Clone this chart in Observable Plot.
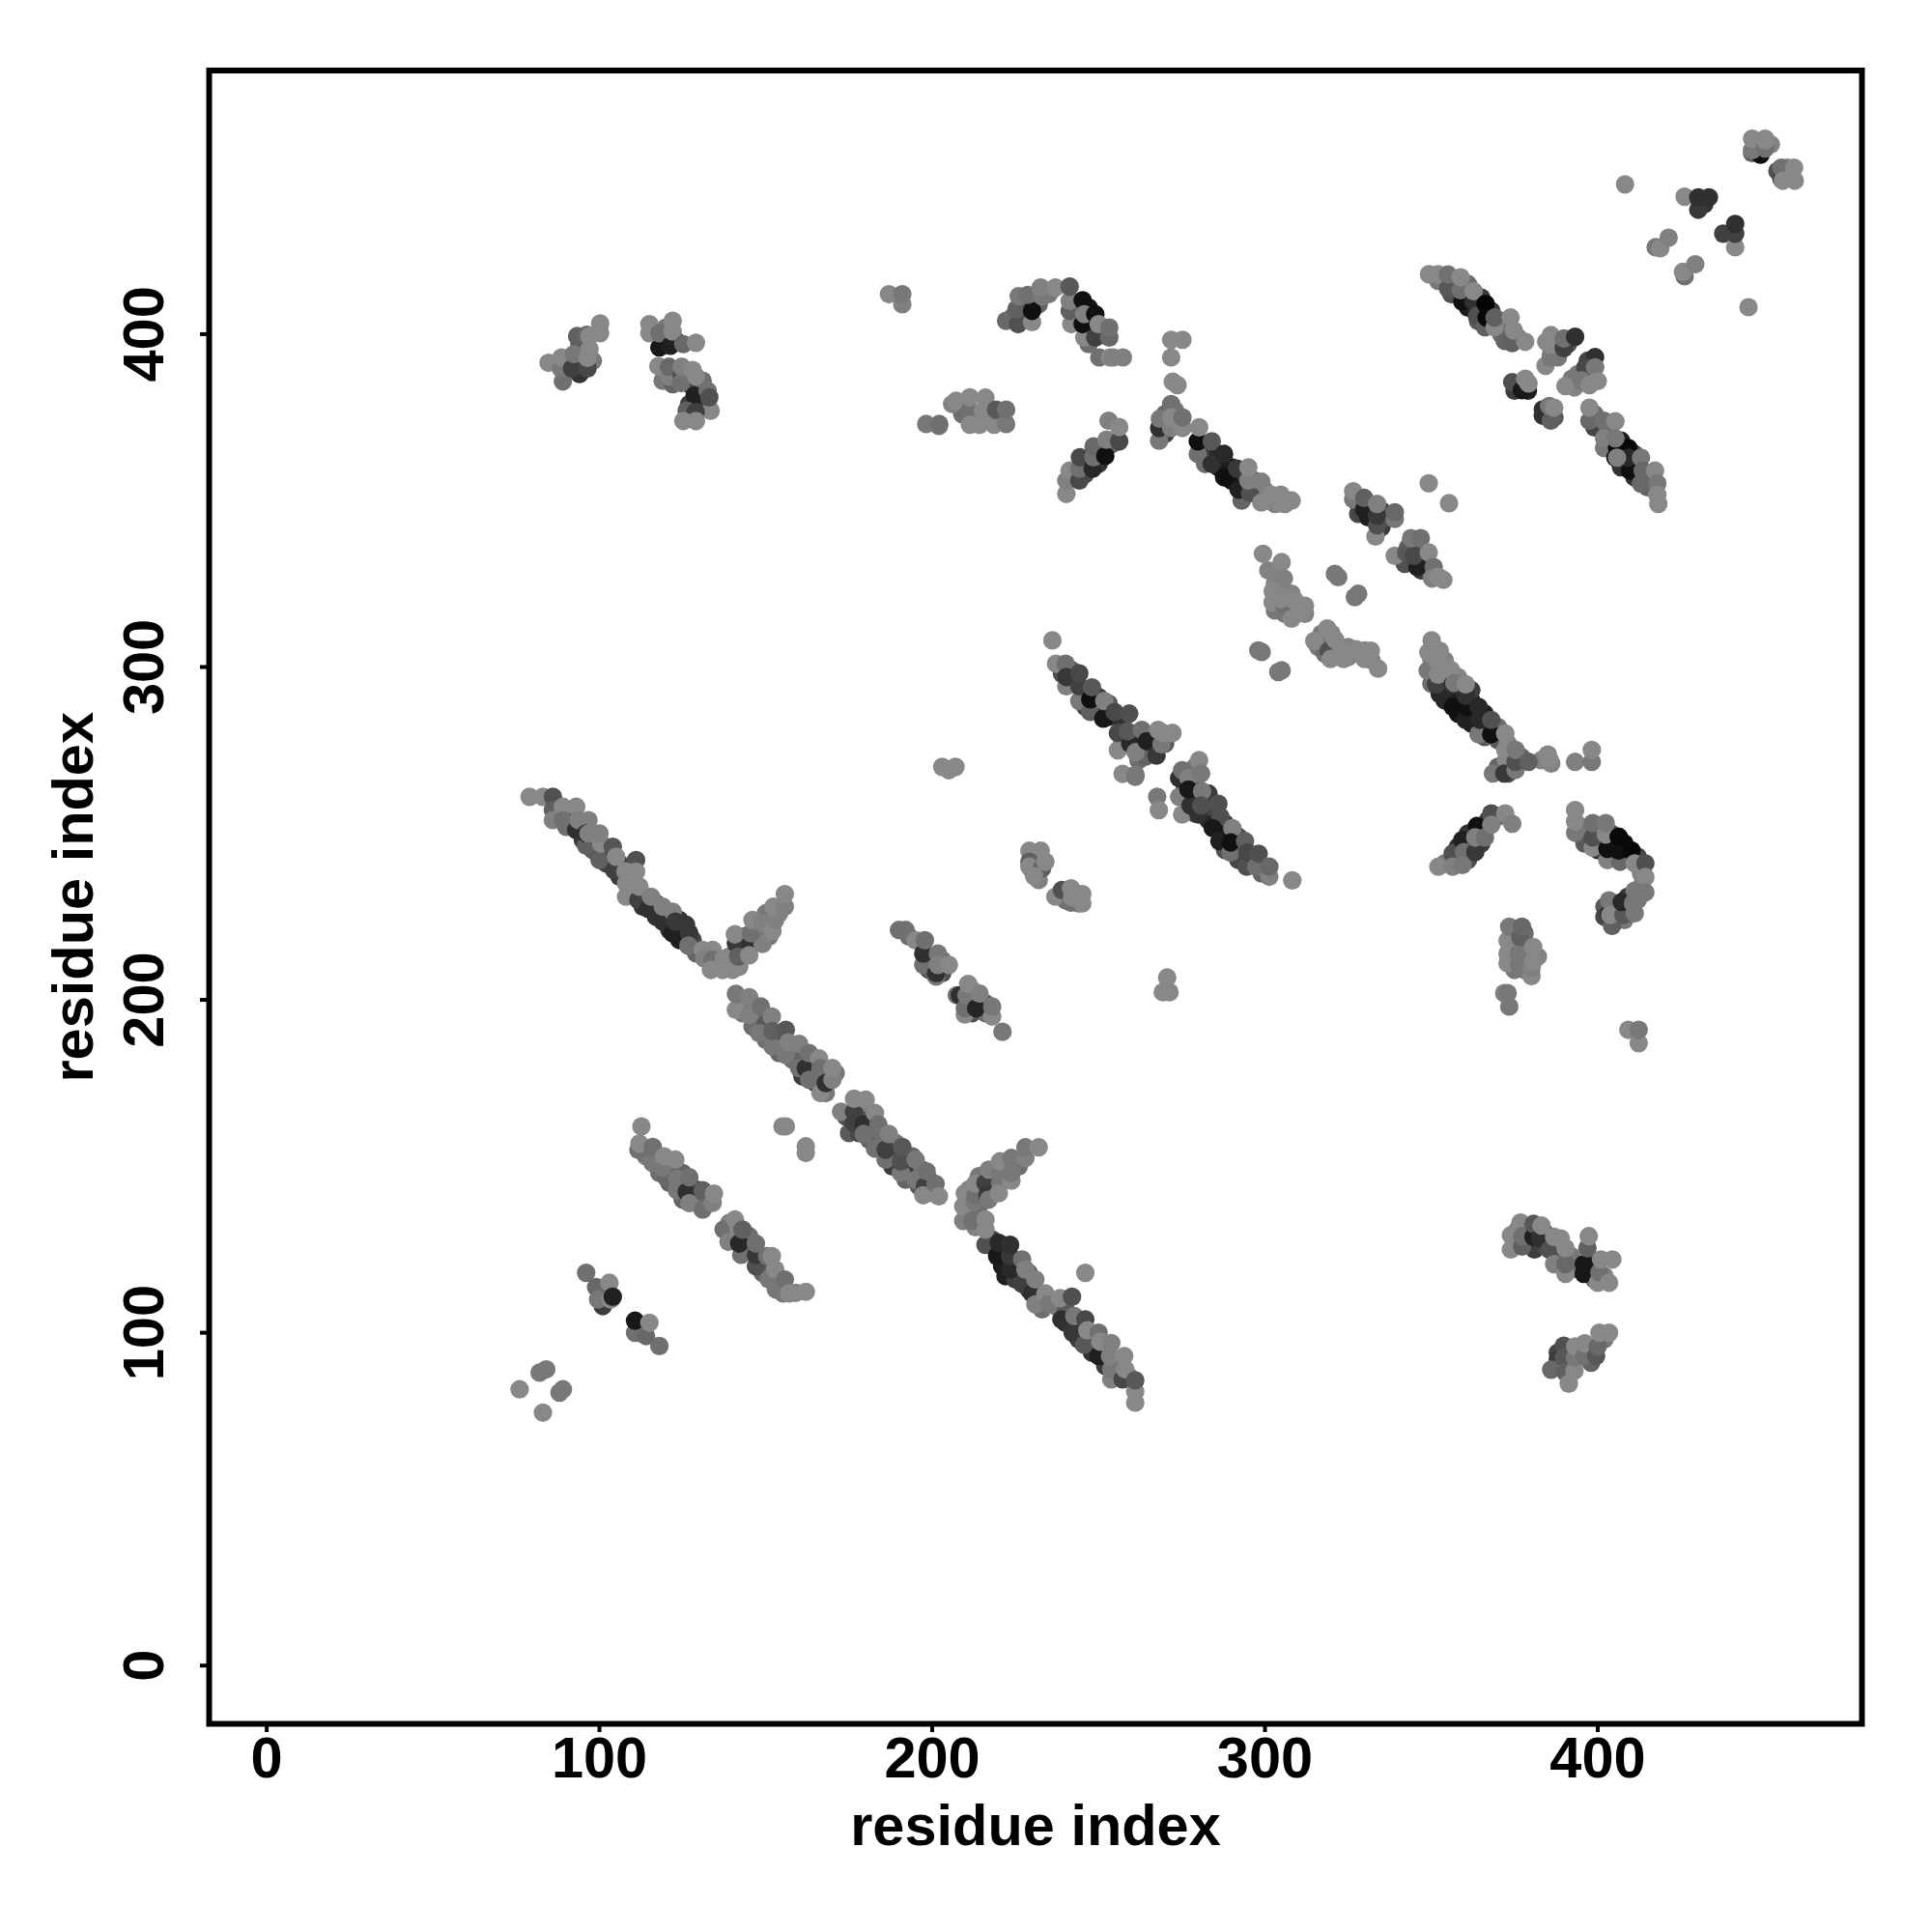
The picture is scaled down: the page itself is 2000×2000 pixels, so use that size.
<!DOCTYPE html>
<html><head><meta charset="utf-8">
<style>html,body{margin:0;padding:0;background:#fff}</style>
<script src="https://cdn.jsdelivr.net/npm/d3@7"></script>
<script src="https://cdn.jsdelivr.net/npm/@observablehq/plot@0.6"></script>
</head><body><div id="chart"></div>
<script>
// Each entry: [residue index x, residue index y, grey level]
const hiddenPoints=[[88,256,90],[90,252,110],[91,256,50],[94,252,60],[95,248,60],[98,249,60],[98,245,90],[102,245,60],[102,241,70],[103,243,60],[106,241,70],[106,237,60],[110,234,120],[113,228,50],[117,225,50],[117,229,100],[121,221,40],[124,218,30],[124,224,50],[128,218,70],[129,214,100],[136,210,120],[139,213,130],[143,215,60],[143,219,100],[147,218,60],[147,222,110],[151,219,120],[150,226,120],[154,226,130],
[143,199,110],[143,196,120],[146,192,110],[147,197,110],[150,188,110],[150,193,90],[154,188,70],[154,184,100],[158,182,110],[158,185,100],[161,177,60],[161,183,100],[164,180,80],[165,175,50],[168,178,100],[168,172,120],[171,178,120],
[174,165,80],[175,160,90],[178,168,130],[178,164,60],[178,160,70],[181,158,100],[181,164,90],[185,156,90],[185,160,110],[188,150,60],[188,154,80],[189,157,120],[192,146,100],[193,150,60],[194,153,100],[196,144,90],[197,149,110],[199,146,90],[200,142,120],
[211,136,130],[214,138,110],[218,142,90],[219,146,100],[222,149,110],[226,150,110],[211,143,130],[214,147,120],[218,128,70],[221,120,30],[225,121,50],[222,117,30],[225,116,60],[229,113,50],[229,118,100],[233,107,110],[237,108,130],[240,103,50],[240,107,90],[244,102,60],[244,98,60],[248,98,50],[248,94,50],[252,90,60],[252,94,40],[255,90,90],[256,88,100],[259,87,120],
[114,153,120],[118,148,110],[118,151,100],[121,145,100],[122,148,100],[125,143,90],[125,148,100],[125,140,100],[129,139,80],[129,143,60],[132,139,100],[139,130,120],[139,133,130],[144,125,50],[145,129,110],[149,122,60],[149,118,100],[153,115,120],[153,113,120],[159,112,130],
[101,112,100],[101,108,60],[112,100,60],[112,102,30],
[90,391,100],[93,392,100],[94,388,50],[95,396,110],[94,397,90],[98,392,120],[119,398,30],[120,402,120],[123,398,40],[126,389,80],[127,385,70],[131,380,60],[131,386,110],[130,378,60],[127,379,60],[119,386,120],[122,385,100],
[224,405,90],[228,405,70],[228,409,90],[232,409,100],[235,412,120],[243,406,60],[247,408,20],[247,402,30],[251,400,70],[247,397,110],[209,376,110],[213,375,110],[217,375,120],[206,379,130],[220,375,110],
[246,358,70],[246,362,60],[250,361,50],[250,365,70],[243,358,110],[254,367,100],[270,376,100],[273,377,120],[274,373,120],[270,370,60],[282,365,60],[282,361,110],[286,360,30],[286,364,40],[290,356,20],[290,360,30],[294,354,40],[294,358,60],[293,350,100],[297,352,70],[297,356,110],[300,350,120],[303,349,130],[306,349,130],[300,353,130],
[328,349,80],[328,346,70],[331,345,30],[331,348,50],[335,342,60],[335,347,60],[337,345,90],[345,336,90],[347,332,40],[347,329,60],[350,328,100],[342,331,80],[343,336,100],
[301,329,130],[304,328,130],[303,325,130],[304,323,130],[303,317,120],[306,316,120],[306,322,130],[309,317,130],[308,322,130],[312,316,130],[317,310,120],[316,306,120],[320,306,120],[322,304,120],[325,303,130],[325,306,130],[330,305,130],[332,302,130],[320,310,130],[318,304,110],
[239,298,80],[242,295,60],[242,299,90],[246,292,50],[246,288,70],[250,291,60],[250,287,30],[253,285,40],[253,289,90],[257,284,50],[257,279,60],[257,277,130],[261,278,40],[262,272,110],[266,275,60],[266,279,50],[270,277,90],[264,273,100],[276,264,40],[276,261,60],[278,261,40],[279,256,80],[283,254,40],[283,258,70],[283,262,60],[288,253,60],[287,250,30],[288,245,80],[292,249,80],[292,246,50],[292,242,70],[296,242,60],[299,240,90],[299,238,100],[279,266,90],[279,270,120],
[231,242,120],[230,239,110],[232,236,130],[240,230,110],[243,232,130],[244,229,120],
[350,302,130],[351,298,110],[350,295,110],[354,302,130],[354,298,120],[354,294,60],[354,290,40],[358,286,20],[358,290,30],[358,294,40],[358,297,130],[362,283,30],[362,286,20],[362,290,30],[362,293,60],[366,282,40],[366,286,30],[366,279,90],[370,278,90],[370,282,110],[373,268,80],[374,272,110],[370,270,100],[377,273,100],[373,277,130],[386,271,130],[383,272,130],
[354,241,120],[358,241,110],[358,246,50],[361,246,40],[361,242,80],[365,247,60],[365,250,30],[361,250,50],[367,254,60],[370,255,110],[395,252,120],[396,247,90],[400,248,30],[400,245,50],[400,251,100],[404,247,20],[404,243,80],[404,250,90],[408,247,10],[408,243,60],[412,243,70],[413,238,130],[413,234,120],[412,230,120],[409,231,60],[409,227,100],[405,228,70],[405,224,110],[402,228,90],[402,225,70],[408,224,120],
[375,213,120],[375,216,110],[375,219,120],[375,209,120],[378,213,120],[378,217,130],[378,209,120],[378,220,110],[382,213,130],
[375,127,130],[376,131,120],[379,127,90],[379,131,90],[381,125,60],[384,130,60],[384,126,70],[388,122,110],[388,125,90],[392,119,110],[392,123,120],[398,119,40],[398,122,50],[399,116,100],[402,117,130],[388,90,80],[388,94,70],[388,92,60],[391,94,80],[391,91,70],[394,94,110],[398,95,90],[398,91,100],[402,98,120],
[352,416,120],[357,415,100],[356,412,80],[360,412,80],[361,408,30],[361,415,110],[364,408,20],[365,411,60],[364,404,90],[368,407,60],[368,404,30],[371,404,110],[371,400,110],[372,398,100],[376,399,120],[386,394,120],[388,398,120],[388,393,120],[391,397,80],[397,392,70],[394,388,120],[393,384,130],[376,384,60],[379,383,30],[375,383,60],[385,376,50],[387,375,90],[399,376,110],[399,372,70],[403,372,110],[403,367,90],[407,364,30],[407,368,30],[411,361,30],[411,364,70],[411,357,50],[407,360,50],[415,357,90],[415,354,100],
[448,457,130],[448,455,110],[457,448,130],[457,450,130],[452,457,130],[454,449,80],[432,439,50],
[199,212,80],[199,209,90],[203,208,80],[203,212,110],[212,200,120],[212,203,130],[212,196,80],[216,199,100],[216,196,110],[193,219,110]];
const strandA=[[79,261,136],[83,261,136],[86,261,80],[86,257,96],[86,254,128],[89,258,136],[89,254,112],[93,251,48],[93,258,136],[93.7,254,128],[96.7,254,128],[96,246.3,96],[96,250,48],[96.7,250,128],[100,242,96],[100.5,247,136],[100,250,128],[104.4,239,64],[104,246,85],[105,243,136],[111,242,80],[107.8,238.6,136],[111,238.5,136],[108,235,136],[108,231,136],[111.7,230,64],[112,234,136],[114.6,227.4,48],[115.5,231,128],[119,223.5,48],[119,228,128],[122,220,32],[122,226.5,128],[122.8,223.5,56],[126,222.6,56],[127,220,56],[126.7,216.3,112],[131,215,136],[134,215,136],[131.5,212.4,128],[134,212,112],[133.5,209,136],[137,209,136],[140,209,136],[142,210,136],[137.3,212.4,136],[141,217,56],[141.7,213,96],[140.7,219.7,136],[145.5,216.8,48],[145,213.4,136],[149,216.8,128],[145.5,220,112],[146,224,136],[149,223,128],[152,220.7,136],[152.8,224,128],[152.3,228,136],[155.7,228,128],[155.7,231.8,136]];
const strandB=[[141,197,136],[141,201.8,120],[145,195.5,128],[145,200.8,128],[148.5,198,112],[148,190,120],[151.8,195,128],[152,186,120],[152,190.6,96],[156,191,88],[156,183.4,120],[156.7,187.2,128],[160,179.5,112],[162,179.5,48],[160,186.8,128],[163,176,112],[163,184,112],[166.4,172,136],[166,182.4,136],[166.4,179.5,112],[168,175,48],[170,176,128],[170,179.5,136]];
const strandC=[[172.6,166.4,128],[176.5,163,64],[176.5,166.4,64],[176.5,170.3,136],[179.4,162.6,48],[179.4,159.7,112],[180,170,136],[182.8,155.3,112],[182.8,166,136],[183.8,162.6,112],[186,152,112],[186,155,64],[187,159.7,128],[190.6,148,120],[190.6,151.4,80],[191,155.8,88],[195,146,120],[195,152,120],[197.8,144,64],[198.3,148.5,112],[197.3,141.3,136],[201,144.7,112],[202,141,136]];
const strandD=[[209.3,133.6,128],[209.3,138,136],[209.8,141.9,136],[213,131.7,128],[212,133.6,112],[212.7,139.4,120],[213,141.4,112],[213,144.8,136],[216,145,64],[216.6,141.4,56],[217,140,120],[217,149,128],[220.4,145,120],[220.4,148,120],[220.4,151.5,136],[220,141.9,136],[223.8,145.7,136],[223.8,148,120],[223.8,152.5,120],[228,152.5,128],[228,155.7,120],[232,155.7,136],[216,126.4,80],[216,131,136],[216,134,136],[223.4,119,40],[219.5,123,24],[220,127,40],[223.4,123,56],[223.4,126.4,48],[227,114.7,64],[227,122,112],[228,119,128],[230,111.8,48],[231,108.5,128],[231,116,128],[234,111.8,136],[235,108.5,120],[238.4,110.4,136],[242,110.8,80],[246,118,136],[238.8,104,48],[242.2,100,56],[242.7,105,120],[246,104,72],[245.6,96.4,88],[246.6,100.7,136],[250,93,32],[250,100,112],[250.5,97.3,136],[253.8,86,128],[253.8,89,120],[253.4,93,128],[253.8,96.9,128],[257.2,86,72],[257.7,93,136],[258,89,136],[261,79,136],[261,82.3,136],[261,85.7,88]];
const strandE=[[111.7,154.9,112],[112,156.8,136],[112.6,162,136],[116,151,120],[116,155.8,112],[120,146.7,104],[119,149.6,120],[119.4,153,136],[123.3,142.8,120],[123.3,146.2,120],[122.8,152,136],[126.2,142.3,48],[127,138.9,128],[127,146.7,112],[131,137,112],[131,142.8,96],[134,139,128],[134.4,141.8,136],[137.3,131,112],[138.8,127.3,128],[140.7,134,136],[141.7,131,136],[142.6,123.4,112],[142,126.8,40],[143,131,96],[147,120,80],[147,123.4,56],[147,126.8,112],[150.9,116,120],[150.4,123,112],[151.8,123,136],[152.8,119,136],[155.2,111.8,120],[155.7,116,112],[157,111.8,136],[162,112.3,136],[155,162,136],[156,162,136],[162,156,136],[162,154,136]];
const shortLow=[[96,118,112],[99,113.7,104],[99.6,110,120],[103,115,136],[103.4,110,136],[104,110.8,32],[110.7,100,112],[110.7,103.6,24],[114,99,104],[115,103,136],[118,96,112],[82,88,120],[84,89,120],[76,83,136],[88,82,120],[89,83,120],[83,76,136]];
const blockLeft=[[89,385.8,112],[84.7,391.4,136],[88.4,389.7,120],[88.6,393,136],[91.8,389.7,64],[92.3,394,120],[93.3,399.4,96],[96.4,389.7,72],[96.2,399.8,104],[96.4,392.9,136],[97,395.5,136],[97,399.4,136],[100.2,400.3,136],[100.2,403.2,136],[118,396,24],[115,400.3,136],[115,403,136],[118,400.3,112],[121.3,396.5,32],[122,400.8,136],[122,404,136],[125.2,397,104],[129,397.4,136],[117.7,390.4,136],[121,387.3,128],[120.9,390.2,104],[124.7,387.8,80],[124.5,385.3,112],[124.7,390.2,128],[128.6,381.5,32],[128,389.2,136],[129,387.3,136],[132.5,383,112],[133.4,377,136],[133,381,80],[126.2,377,96],[128.9,376.6,64],[125.2,373.9,136],[129,373.9,136]];
const blockTop=[[187,412,136],[191,409,128],[191,412,120],[222.2,404,104],[225.8,403,80],[225.3,407.5,96],[226,411.4,120],[230,403.6,136],[230,407,16],[228.7,411.8,112],[233,411.4,120],[232.6,414,128],[237,414,136],[241.8,403,136],[241.3,407,96],[241.3,410,128],[241.3,414.3,88],[245.7,399,136],[245.2,403,16],[245.2,410.2,16],[245.7,406,128],[249,399,64],[249,406,16],[250,403,136],[253.2,399,104],[253.2,402,112],[250.2,393,112],[253.4,393,136],[254.4,393,128],[257.3,393,128],[198.2,373,120],[202,372.4,120],[202.1,373,112],[207.2,380,136],[211.3,377,112],[211.3,372.8,136],[211.3,381,136],[214.2,372.8,136],[215.2,377,136],[216,380.9,136],[218.6,372.8,136],[219.2,377.3,88],[222.2,373,120],[222.2,377.3,112]];
const blockMid=[[240.3,352,136],[240.3,356,128],[241.3,359,136],[244.2,356,72],[244.2,359.6,112],[244.4,363,72],[248.2,359.6,40],[248.5,363,112],[248.5,366.3,104],[252,363.4,16],[252.4,368.3,128],[253,374,128],[256.2,367.8,72],[256.2,372.1,136],[271.8,398.3,136],[275.2,398.3,136],[271.8,393,136],[272.3,385.7,136],[273.7,384.7,136],[268.2,368,120],[268.2,371.8,48],[268.4,374.6,120],[271.8,379,112],[271.8,371.8,128],[271.8,375,136],[275.2,371.8,136],[275.2,375,112],[279.8,364,112],[279.8,367.8,16],[280.2,372,136],[284,361,48],[284,367.8,88],[287.7,357,16],[287.7,364,40],[292.1,353.3,32],[291.6,359.6,56],[295.5,352.3,80],[295,356,128],[295,360,136],[298.9,349.4,136],[298.9,355.7,128],[301.8,351.8,136],[304.7,349.2,136],[304.7,351.8,136],[308,350,136]];
const blockRight=[[326.5,350.4,120],[326.5,352.8,136],[329.8,347.4,32],[329.8,350.8,96],[333.2,339.2,136],[333.7,342.6,80],[333.7,345.5,56],[333.7,349,128],[339,344.5,120],[339,346.5,104],[349.2,355.2,136],[355.3,349.2,136],[339,333.4,136],[342.4,334.4,88],[345.8,330,32],[344.8,333.4,72],[343.9,338.7,120],[346.8,338.7,112],[349.2,334.4,136],[350.7,330,112],[350.2,326.6,128],[352.1,327.1,136],[353.6,326.2,136]];
const blockGrey=[[299.4,334,136],[305,331.5,136],[305.7,326.6,128],[302.3,322.8,136],[302.3,319.4,136],[305.7,318.4,112],[304.7,320.3,136],[308,314.5,136],[309,319.9,136],[311,316.5,136],[312,318.4,136],[321,328,120],[322,327,120],[327,321,120],[328,322,120],[314.8,307.8,136],[318.7,311.6,136],[319.2,304.9,80],[321.1,308.2,136],[319.7,302.4,136],[323,305.3,136],[323.6,302.4,136],[327.4,305.3,136],[329.9,302.4,136],[331.8,304.9,136],[334,299.5,136],[298,305,120],[299,304.5,120],[304,298.5,120],[305,299,120]];
const strandF=[[236.1,308,136],[237.2,301,136],[240.1,301,112],[240.3,294.2,128],[240.3,297,56],[244.2,289.8,120],[244.2,294.2,64],[244.2,298.1,72],[247.5,286.5,96],[247.5,290.3,16],[248,293.9,88],[251.4,284.5,24],[251.7,289.8,128],[254.8,286.5,72],[259.2,286,80],[255.8,275,136],[255.8,280.2,72],[259.5,277,40],[258.7,280.7,88],[261.1,274.4,128],[263,281.1,112],[264.5,277.7,32],[267.4,273.4,56],[268.9,276.8,120],[267.9,281.1,136],[269.3,280.2,136],[272.2,280.2,136],[257.2,267.9,136],[261,267,120],[261.1,267.6,120],[267.6,261,120],[268.1,257,136],[274.2,266.6,48],[275.1,269,112],[277,266.6,128],[280.2,272,136],[280.8,268,120],[275.1,255.7,136],[274.2,261,128],[277.6,258.4,48],[277,263.2,24],[281.1,262.7,120],[280,255.7,48],[280.8,258.4,80],[286,258.9,80],[286.6,255,80],[284.3,251.6,24],[286.3,247.7,32],[290.2,251.6,128],[289.7,244.3,112],[289.7,247.3,16],[294,247.7,96],[294.5,240,80],[294.7,244.3,72],[297.4,240,112],[298.1,243.9,80],[301.3,237,128],[301.3,240,104],[308.2,235.9,136]];
const smallGrey=[[229.2,244.8,136],[232.6,244.8,136],[229.2,241.5,96],[229.2,240,136],[233,239.5,96],[230.6,237.2,136],[234,241.5,136],[237,231,136],[239,233,80],[241.7,229.2,112],[241.7,233.5,136],[245.1,231.8,136],[245.1,229,136],[242,230.8,136],[270.6,206.7,136],[269.3,202.3,136],[271.3,202.3,136],[203,270,136],[205,269,136],[207,270,136]];
const strandG=[[348.9,298.9,120],[349.1,304.4,136],[350.1,308,136],[352.5,291.9,40],[351.4,294.8,64],[352,297.7,136],[352,301.5,136],[352.5,304.9,136],[356.4,288,16],[356.4,294.8,48],[355.9,299.1,136],[356.9,295.2,120],[360.3,284.1,32],[360.8,288,16],[360.3,291.4,48],[360.3,294.8,136],[364.2,279.8,120],[364.6,284.1,40],[364.2,288,40],[368,279.8,16],[368,284.1,80],[372.2,280,136],[372.2,275.1,136],[372.4,272,136],[368.5,268,120],[371.9,268,56],[375.3,269.1,120],[375.3,271.5,80],[375.3,275.1,120],[379.2,271.5,96],[385,273.7,136],[385.5,272.2,136],[393.2,271.5,128],[398.2,271.5,120],[398.2,275.1,136]];
const strandH=[[352.1,240,136],[356.4,244,80],[356.4,240,128],[359.3,248,32],[359.8,244.4,112],[359.3,240.5,120],[363.7,252.2,16],[363.2,244.4,56],[363.2,248.8,128],[366.1,248.8,112],[368,256,80],[368,252.6,128],[372.2,256,136],[374.3,252.9,128],[393.2,250.2,120],[393.2,253.6,136],[393.2,257,136],[398.5,245.7,136],[398.5,248.8,80],[398.5,253.1,112],[402.9,242,128],[402.9,245.4,16],[402.4,249.7,136],[402.4,253.1,120],[406.7,241.5,104],[406.3,244.9,16],[406.3,249,8],[410.1,244.9,8],[411.1,241,136],[414.3,241,80],[414.3,236.9,136],[404.3,222.2,96],[403.4,226,48],[403.4,229.9,120],[403.8,225.5,136],[407.7,225.5,88],[407.2,229.4,40],[411.1,226,120],[410.6,229,120],[411.1,232.8,120],[414.3,232.3,120]];
const columnLow=[[372.9,211,136],[372.9,213.9,136],[372.9,217.8,136],[373.4,222,120],[376.3,210.5,120],[376.3,213.9,120],[376.7,218.8,96],[377.2,222,104],[380.1,207.1,136],[380.1,209.6,128],[380.6,211.5,136],[380.6,215.9,136],[371.9,202,128],[373.4,198,120],[372.9,202,120],[409.2,191,136],[412.3,187,136],[412.3,191,120]];
const blockBR=[[373.9,125,136],[373.9,129.3,136],[376.8,133.1,136],[377.3,125.9,96],[377.3,129,112],[380.7,128.8,32],[380.7,132.7,88],[382.6,128.3,48],[383.1,132.2,136],[385.5,124.9,80],[386.9,120.6,128],[386.9,128.8,136],[388.9,128.3,136],[390.3,117.7,136],[390.3,120.6,104],[390.3,125.4,136],[395.8,117.7,24],[395.8,120.6,24],[396.9,125.4,96],[397.3,129,136],[400,115,136],[400.5,118.1,112],[403.4,115,136],[401,122,136],[404.4,122,136],[389.8,96.1,80],[386,88.9,104],[389.8,92.5,88],[390.3,88.1,96],[391.3,84.7,136],[393,88.6,136],[393.2,92.5,120],[393.2,95.9,136],[396.1,93,112],[396.1,96.8,136],[399.5,93,88],[400,95.9,104],[400.5,100,136],[403.4,100,136]];
const strandTR=[[349.3,418,136],[352,418,136],[355,413.7,88],[355,417.9,112],[359.3,409.8,16],[358.8,413.2,112],[358.8,417.1,136],[362.7,409.8,48],[362.7,412.9,136],[363.7,405.5,80],[366.1,402.1,96],[366.3,409.1,5],[366.6,405,8],[369,402.1,136],[369,405,96],[373.8,405,136],[374.3,397.3,96],[374.8,401.1,136],[378.2,397.7,136],[384.3,390.5,136],[385.9,392.9,120],[384.5,397.7,136],[385.9,396.8,136],[385.9,399.7,136],[389.8,395.8,64],[389.8,398.7,112],[393.2,399.2,48],[399.2,393.1,48],[396.3,390,72],[399.2,390,120],[392.2,386.6,120],[390.3,384.4,136],[395.1,386.1,120],[397.5,384.7,136],[400,385.9,136],[374.3,385.6,80],[377.2,383.2,24],[378.2,386.6,136],[379.2,385.2,136],[383.5,375.5,48],[383.5,377.4,48],[385.9,374,96],[385.4,378.4,120],[386.9,377.9,136],[397.5,374,104],[397.5,377.9,136],[401.9,374,112],[405.3,373.8,136],[401.9,365.8,120],[401.9,368.7,128],[405.8,365.8,8],[409.2,365.8,8],[405.3,368.7,120],[405.3,362.9,16],[409.7,359,16],[409.2,362.9,40],[405.8,362.9,128],[413,362.9,120],[413,355.1,104],[413.5,359,104],[417.2,359,136],[417.9,355.1,120],[417.9,351.8,136],[418.2,349,136]];
const blockCorner=[[446.4,454.4,96],[448.9,453.9,16],[446.4,455.3,120],[446.4,458.7,136],[450.3,455.8,112],[450.3,458.2,136],[450.3,458.7,136],[455.2,446.6,64],[455.2,450,112],[455.6,446.1,136],[459,450,136],[459.2,446.1,136],[408.2,445,136],[426.1,441.3,136],[430.2,437.4,56],[430.2,441.1,48],[433.4,441.1,48],[437.7,430.2,64],[441.3,426.1,136],[441.3,430.2,64],[441.3,433.1,48],[417.4,426.1,120],[418.8,425.8,136],[421.3,429,128],[426.1,417.4,112],[425.6,418.7,136],[429.3,421,128],[445.3,408.1,136]];
const strandJ=[[190,221,112],[192,221,112],[195,217.9,136],[197.3,210.5,112],[197.3,213.9,48],[197.8,217.9,112],[201.2,207,120],[201.2,208,48],[201.7,213.9,120],[201.7,210.5,128],[205,210.5,136],[207.4,201.4,112],[208.3,201.4,48],[209.8,195.6,136],[209.8,197.5,112],[210.3,201.4,120],[210.8,204.8,136],[213.2,197.5,37],[214.2,201.9,128],[218,195,136],[218,198,120],[221.1,190.4,120]];
const tickValues=[0,100,200,300,400];
const axisLabel="residue index";
const points=[hiddenPoints,strandA,strandB,strandC,strandD,strandE,shortLow,blockLeft,blockTop,blockMid,blockRight,blockGrey,strandF,smallGrey,strandG,strandH,columnLow,blockBR,strandTR,blockCorner,strandJ].flat().map(([x,y,shade])=>({x,y,shade}));
const ft={fontFamily:"Liberation Sans",fontWeight:"bold",fontSize:59.5};
const chart=Plot.plot({
  width:2000,height:2000,
  marginLeft:216,marginRight:73,marginTop:72.5,marginBottom:216,
  style:{fontFamily:"Liberation Sans",fontWeight:"bold",fontSize:"59.5px",background:"#fff",color:"#000"},
  x:{domain:[-17.3,479.4]},
  y:{domain:[-17.5,479.2]},
  color:{type:"linear",domain:[0,255],range:["#000","#fff"]},
  marks:[
    Plot.dot(points,{x:"x",y:"y",fill:"shade",r:9.6}),
    Plot.frame({stroke:"#000",strokeWidth:6}),
    Plot.axisX({ticks:tickValues,tickSize:9,tickPadding:4,strokeWidth:4,stroke:"#000",label:axisLabel,labelAnchor:"center",labelArrow:"none",labelOffset:125,...ft}),
    Plot.axisY({ticks:tickValues,tickSize:9,tickPadding:39,tickRotate:-90,strokeWidth:4,stroke:"#000",label:axisLabel,labelAnchor:"center",labelArrow:"none",labelOffset:163,...ft})
  ]
});
document.getElementById("chart").appendChild(chart);
</script></body></html>
